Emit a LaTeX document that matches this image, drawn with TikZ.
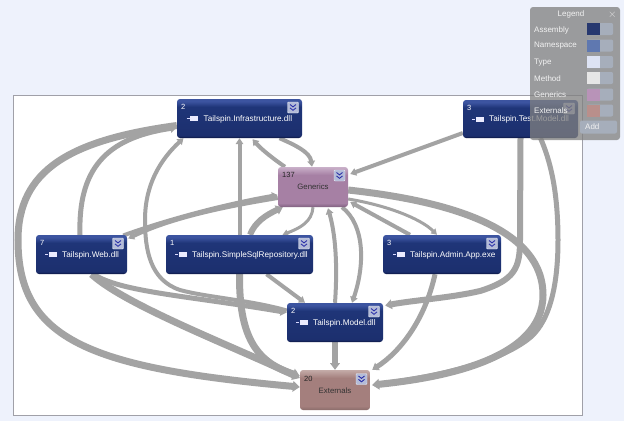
\documentclass[tikz,border=0pt]{standalone}
\usepackage{fontspec}
\setmainfont{Liberation Sans}
\usetikzlibrary{arrows.meta,backgrounds}
\definecolor{pagebg}{HTML}{EEF2FC}
\definecolor{framegray}{HTML}{A0A0A8}
\definecolor{edgegray}{HTML}{A3A3A3}
\definecolor{chev}{HTML}{2A2FA8}
\definecolor{btnfill}{HTML}{B4BCD8}
\definecolor{legendbtn}{HTML}{A6AEBB}
\definecolor{asmZ}{HTML}{0A1540}
\definecolor{asmA}{HTML}{1C2F6E}
\definecolor{asmB}{HTML}{1F3578}
\definecolor{asmC}{HTML}{3C54A0}
\definecolor{genA}{HTML}{7F607F}
\definecolor{genB}{HTML}{A680A4}
\definecolor{genC}{HTML}{C9B0C9}
\definecolor{extA}{HTML}{8A6C6A}
\definecolor{extB}{HTML}{A47F7D}
\definecolor{extC}{HTML}{C4ABA8}
\pgfdeclareverticalshading{asmshade}{100bp}{color(0bp)=(asmZ);color(25bp)=(asmZ);color(28bp)=(asmA);color(65bp)=(asmB);color(72bp)=(asmC);color(100bp)=(asmC)}
\pgfdeclareverticalshading{genshade}{100bp}{color(0bp)=(genA);color(25bp)=(genA);color(30bp)=(genB);color(65bp)=(genB);color(75bp)=(genC);color(100bp)=(genC)}
\pgfdeclareverticalshading{extshade}{100bp}{color(0bp)=(extA);color(25bp)=(extA);color(30bp)=(extB);color(65bp)=(extB);color(75bp)=(extC);color(100bp)=(extC)}
\tikzset{
  edge/.style={draw=edgegray,line width=#1,-{Triangle[length=4.5pt 0.35,width=3.5pt 1]}},
  boxbase/.style={rounded corners=3pt,inner sep=0pt,anchor=center},
  asmbox/.style={boxbase,shading=asmshade},
  genbox/.style={boxbase,shading=genshade},
  extbox/.style={boxbase,shading=extshade},
  numlabel/.style={font=\fontsize{7.5}{9}\selectfont,inner sep=0pt,anchor=west},
  asmtext/.style={font=\fontsize{8.2}{10}\selectfont,text=white,inner sep=0pt,anchor=west},
  boxtext/.style={font=\fontsize{7.8}{10}\selectfont,text=black!80,inner sep=0pt,anchor=center},
  btn/.style={fill=btnfill,draw=white!70!btnfill,line width=.4pt,rounded corners=1pt,minimum size=11pt,inner sep=0pt},
  iconrect/.style={fill=white!92!blue,minimum width=8pt,minimum height=5pt,inner sep=0pt},
  legtext/.style={font=\fontsize{8}{10}\selectfont,text=white!90!gray,inner sep=0pt,anchor=west},
  swatchback/.style={fill=legendbtn,rounded corners=2pt,minimum width=26pt,minimum height=12pt,inner sep=0pt,anchor=west},
  swatch/.style={minimum width=12.5pt,minimum height=12pt,inner sep=0pt,anchor=west},
}
\newcommand{\chevbutton}[3]{%
  \node[btn] (#1-btn) at (#2,#3) {};
  \draw[chev,line width=.9pt] ([shift={(-3,-3)}]#1-btn.center) -- ([shift={(0,-.6)}]#1-btn.center) -- ([shift={(3,-3)}]#1-btn.center);
  \draw[chev,line width=.9pt] ([shift={(-3,.4)}]#1-btn.center) -- ([shift={(0,2.8)}]#1-btn.center) -- ([shift={(3,.4)}]#1-btn.center);
}
\newcommand{\asmnode}[8]{%
  \node[asmbox,minimum width=#4pt,minimum height=#5pt] (#1) at (#2,#3) {};
  \node[numlabel,text=white] (#1-num) at ([shift={(-#4/2+4,-#5/2+8)}]#1.center) {#6};
  \node[asmtext] (#1-txt) at (#8,#3+.5) {#7};
  \node[iconrect] (#1-icon) at (#8-9.5,#3) {};
  \draw[white!85!blue,line width=.8pt] (#8-17,#3) -- (#1-icon.west);
  \chevbutton{#1}{#2+#4/2-9}{#3-#5/2+8.5}
}
\begin{document}
\begin{tikzpicture}[x=1pt,y=-1pt]
\useasboundingbox (0,0) rectangle (624,421);
\fill[pagebg] (0,0) rectangle (624,421);
\node[draw=framegray,fill=white,line width=.8pt,minimum width=569pt,minimum height=320pt,inner sep=0pt] (frame) at (297.5,255) {};

\node[minimum width=125pt,minimum height=39pt,inner sep=0pt] (infra) at (239.5,118.5) {};
\node[minimum width=70pt,minimum height=40pt,inner sep=0pt] (gen) at (313,187) {};
\node[minimum width=115pt,minimum height=38pt,inner sep=0pt] (test) at (520.5,119) {};
\node[minimum width=91pt,minimum height=39pt,inner sep=0pt] (web) at (81.5,254.5) {};
\node[minimum width=147pt,minimum height=39pt,inner sep=0pt] (simple) at (239.5,254.5) {};
\node[minimum width=118pt,minimum height=39pt,inner sep=0pt] (admin) at (442,254.5) {};
\node[minimum width=96pt,minimum height=39pt,inner sep=0pt] (model) at (335,322.5) {};
\node[minimum width=70pt,minimum height=40pt,inner sep=0pt] (ext) at (335,390) {};

\draw[edge=5pt] ([shift={(-1.5,0)}]web.north) .. controls (78,170) and (105,138) .. ([shift={(0,9)}]infra.west);
\draw[edge=7pt] ([shift={(0,7)}]infra.west) .. controls (70,140) and (18,170) .. (18,240) .. controls (18,340) and (90,368) .. ([shift={(0,-3)}]ext.west);
\draw[edge=4pt] ([shift={(0,11)}]gen.west) .. controls (235,205) and (175,216) .. ([shift={(1,-16)}]web.east);
\draw[edge=4pt] ([shift={(-4,-19)}]web.east) .. controls (160,222) and (220,205) .. ([shift={(0,8)}]gen.west);
\draw[edge=5pt] ([shift={(12,0)}]web.south) .. controls (120,292) and (190,296) .. ([shift={(0,-10)}]model.west);
\draw[edge=7pt] ([shift={(10,0)}]web.south) .. controls (125,305) and (230,345) .. ([shift={(0,-12)}]ext.west);
\draw[edge=4pt] ([shift={(0,-12)}]model.west) .. controls (250,300) and (205,297) .. (180,290) .. controls (150,280) and (145,250) .. (145,220) .. controls (145,185) and (160,160) .. ([shift={(-56,0)}]infra.south);
\draw[edge=4pt] (simple.north) -- (infra.south);
\draw[edge=7pt] (simple.south) .. controls (239,335) and (255,362) .. ([shift={(0,-14)}]ext.west);
\draw[edge=6pt] ([shift={(10.5,0)}]simple.north) .. controls (255,222) and (266,215) .. ([shift={(5,0)}]gen.south west);
\draw[edge=3pt] (gen.south) .. controls (312,222) and (300,228) .. ([shift={(43,0)}]simple.north);
\draw[edge=4pt] ([shift={(27,0)}]simple.south) -- ([shift={(-30,0)}]model.north);
\draw[edge=4pt] ([shift={(40,0)}]infra.south) .. controls (295,145) and (310,152) .. ([shift={(-1,0)}]gen.north);
\draw[edge=4pt] ([shift={(-28,0)}]gen.north) .. controls (275,160) and (262,150) .. ([shift={(13,1)}]infra.south);
\draw[edge=4pt] ([shift={(0,14)}]test.west) -- ([shift={(2,-13)}]gen.east);
\draw[edge=6pt] (test.south) -- (520,240) .. controls (520,268) and (515,280) .. (480,291) .. controls (450,298) and (415,300) .. ([shift={(2,-17)}]model.east);
\draw[edge=7pt] ([shift={(0,3)}]gen.east) .. controls (440,200) and (543,225) .. (543,295) .. controls (543,360) and (440,378) .. ([shift={(2,-5)}]ext.east);
\draw[edge=5pt] ([shift={(20,0)}]test.south) .. controls (550,160) and (558,190) .. (558,240) .. controls (558,290) and (548,325) .. (527,340) .. controls (500,360) and (450,375) .. ([shift={(2,-5)}]ext.east);
\draw[edge=4pt] ([shift={(-32,0)}]admin.north) -- ([shift={(2,15)}]gen.east);
\draw[edge=3pt] ([shift={(0,12)}]gen.east) .. controls (385,205) and (420,218) .. ([shift={(-5,0)}]admin.north);
\draw[edge=5pt] ([shift={(-7,0)}]admin.south) .. controls (425,320) and (400,352) .. ([shift={(2,0)}]ext.north east);
\draw[edge=4pt] ([shift={(29,0)}]gen.south) .. controls (365,225) and (365,265) .. ([shift={(17,0)}]model.north);
\draw[edge=4pt] (model.north) .. controls (337,275) and (337,240) .. ([shift={(15,1)}]gen.south);
\draw[edge=6pt] (model.south) -- (ext.north);

\node[genbox,minimum width=70pt,minimum height=40pt] (genbody) at (gen) {};
\node[numlabel,text=black!85] (gen-num) at (282,175) {137};
\node[boxtext] (gen-txt) at (313,187) {Generics};
\chevbutton{gen}{339.5}{175.5}
\node[extbox,minimum width=70pt,minimum height=40pt] (extbody) at (ext) {};
\node[numlabel,text=black!85] (ext-num) at (304,379) {20};
\node[boxtext] (ext-txt) at (335,391) {Externals};
\chevbutton{ext}{361.5}{379}
\asmnode{infrab}{239.5}{118.5}{125}{39}{2}{Tailspin.Infrastructure.dll}{203.5}
\asmnode{testb}{520.5}{119}{115}{38}{3}{Tailspin.Test.Model.dll}{489}
\asmnode{webb}{81.5}{254.5}{91}{39}{7}{Tailspin.Web.dll}{62}
\asmnode{simpleb}{239.5}{254.5}{147}{39}{1}{Tailspin.SimpleSqlRepository.dll}{192}
\asmnode{adminb}{442}{254.5}{118}{39}{3}{Tailspin.Admin.App.exe}{410}
\asmnode{modelb}{335}{322.5}{96}{39}{2}{Tailspin.Model.dll}{313}

\node[fill=black!50,fill opacity=.76,rounded corners=3pt,minimum width=90pt,minimum height=133pt,inner sep=0pt] (legend) at (575,73.5) {};
\node[legtext,anchor=center] (legtitle) at (571,14.5) {Legend};
\node[font=\fontsize{11}{11}\selectfont,text=white!80!gray,inner sep=0pt] (legclose) at (612.5,14.5) {$\times$};
\node[legtext] (l1) at (534,30) {Assembly};
\node[legtext] (l2) at (534,46) {Namespace};
\node[legtext] (l3) at (534,62.5) {Type};
\node[legtext] (l4) at (534,78.5) {Method};
\node[legtext] (l5) at (534,95) {Generics};
\node[legtext] (l6) at (534,111) {Externals};
\foreach \yy/\cc/\nm in {29/27386F/a,45.5/5F78B0/b,62/DDE3F4/c,78/E6E6E6/d,94.5/B893B8/e,110.5/B98F8B/f}{
  \definecolor{swc}{HTML}{\cc}
  \node[swatchback] (sb\nm) at (587,\yy) {};
  \node[swatch,fill=swc] (sw\nm) at (587,\yy) {};
}
\node[fill=legendbtn,rounded corners=2pt,minimum width=37pt,minimum height=13pt,inner sep=0pt] (addbtn) at (598.5,127) {};
\node[legtext] (addtxt) at (585,127) {Add};
\end{tikzpicture}
\end{document}
